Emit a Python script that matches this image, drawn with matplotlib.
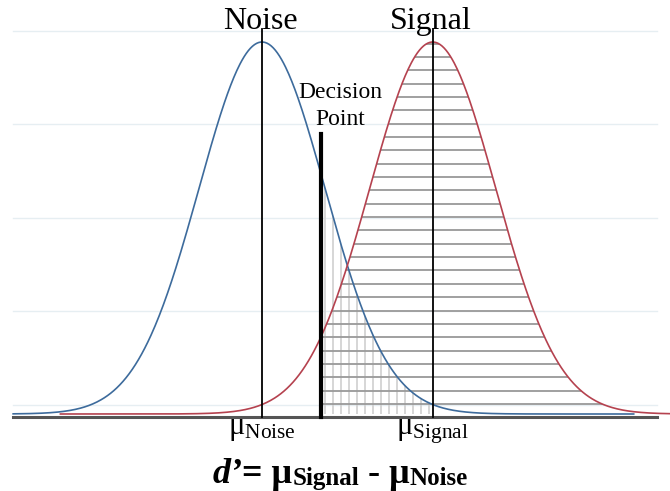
import numpy as np
import matplotlib
matplotlib.use("Agg")
import matplotlib.pyplot as plt
from matplotlib.transforms import IdentityTransform

plt.rcParams['mathtext.fontset'] = 'custom'
plt.rcParams['mathtext.rm'] = 'Liberation Serif'
plt.rcParams['mathtext.it'] = 'Liberation Serif:italic'
plt.rcParams['mathtext.bf'] = 'Liberation Serif:bold'

# ---- data ----
labels = ["Noise", "Signal"]
means = [0.0, 2.71]          # in SD units
sds = [1.0, 1.0]
decision = 0.937
curve_ranges = [(-3.95, 5.9), (-3.2, 6.5)]
grid_y = [0.025, 0.277, 0.527, 0.78, 1.03]
axis_range = (-3.95, 6.27)
formula_parts = [("d’", "bolditalic", 26, 0), ("= μ", "bold", 26, 0),
                 ("Signal", "bold", 18, -2), (" - μ", "bold", 26, 0),
                 ("Noise", "bold", 18, -2)]

colors = ["#3d6b9c", "#b5424f"]
SERIF = "Liberation Serif"

def pdf(x, m, s):
    return np.exp(-0.5 * ((x - m) / s) ** 2)

W, H = 670, 491
fig = plt.figure(figsize=(W / 100, H / 100), dpi=100)
ax = fig.add_axes([0, 0, 1, 1])
ax.set_xlim(-262 / 63, 408 / 63)
ax.set_ylim(-77 / 372, 414 / 372)
ax.axis("off")

# gridlines
for g in grid_y:
    ax.plot(axis_range, [g, g], color="#e6eef2", lw=1.0, zorder=0)

# shaded region of signal beyond decision (horizontal hatching)
xs = np.linspace(decision, curve_ranges[1][1], 400)
poly_s = ax.fill_between(xs, 0, pdf(xs, means[1], sds[1]), color="none", lw=0)
step_h = 13.35 / 372
levels = np.arange(0.027, 1.0, step_h)
for lv in levels:
    ln, = ax.plot([decision, curve_ranges[1][1]], [lv, lv], color="#999999", lw=1.3, zorder=2)
    ln.set_clip_path(poly_s.get_paths()[0], ax.transData)

# shaded region of noise beyond decision up to signal mean (vertical hatching)
xn = np.linspace(decision, means[1], 300)
poly_n = ax.fill_between(xn, 0, pdf(xn, means[0], sds[0]), color="none", lw=0)
step_v = 8.0 / 63
for xv in np.arange(decision + 4 / 63, means[1], step_v):
    ln, = ax.plot([xv, xv], [0, 1.0], color="#d3d3d3", lw=1.3, zorder=1)
    ln.set_clip_path(poly_n.get_paths()[0], ax.transData)

# baseline
ax.plot(axis_range, [-0.008, -0.008], color="#555555", lw=2.2, zorder=3)

# curves
for m, s, (a, b), c in zip(means, sds, curve_ranges, colors):
    x = np.linspace(a, b, 600)
    ax.plot(x, pdf(x, m, s), color=c, lw=1.2, zorder=4)

# mean lines
for m in means:
    ax.plot([m, m], [-0.008, 1.035], color="black", lw=1.3, zorder=5)
# decision line
ax.plot([decision, decision], [-0.008, 0.753], color="black", lw=3.0, zorder=5)

# labels
for m, lab in zip(means, labels):
    ax.text(m - 0.03, 1.056, lab, ha="center", va="center", family=SERIF,
            fontsize=23, zorder=6)
    ax.text(m, -0.054, r"$\mathrm{μ}_{\mathrm{%s}}$" % lab, ha="center",
            va="baseline", fontsize=22, zorder=6)

ax.text(1.24, 0.849, "Decision", ha="center", va="baseline", family=SERIF, fontsize=17)
ax.text(1.24, 0.777, "Point", ha="center", va="baseline", family=SERIF, fontsize=17)

# formula composed from pieces, centred at x=340 px, baseline 8 px above bottom
renderer = fig.canvas.get_renderer()
pieces = []
for txt, style, size, dy in formula_parts:
    kw = dict(family=SERIF, fontsize=size, fontweight="bold",
              fontstyle="italic" if style == "bolditalic" else "normal")
    t = fig.text(0, 0, txt, transform=IdentityTransform(), ha="left",
                 va="baseline", **kw)
    w = t.get_window_extent(renderer).width
    pieces.append((t, w, dy))
total = sum(w for _, w, _ in pieces)
x0 = 340 - total / 2
for t, w, dy in pieces:
    t.set_position((x0, 8 + dy))
    x0 += w

fig.savefig("out.png", dpi=100)
